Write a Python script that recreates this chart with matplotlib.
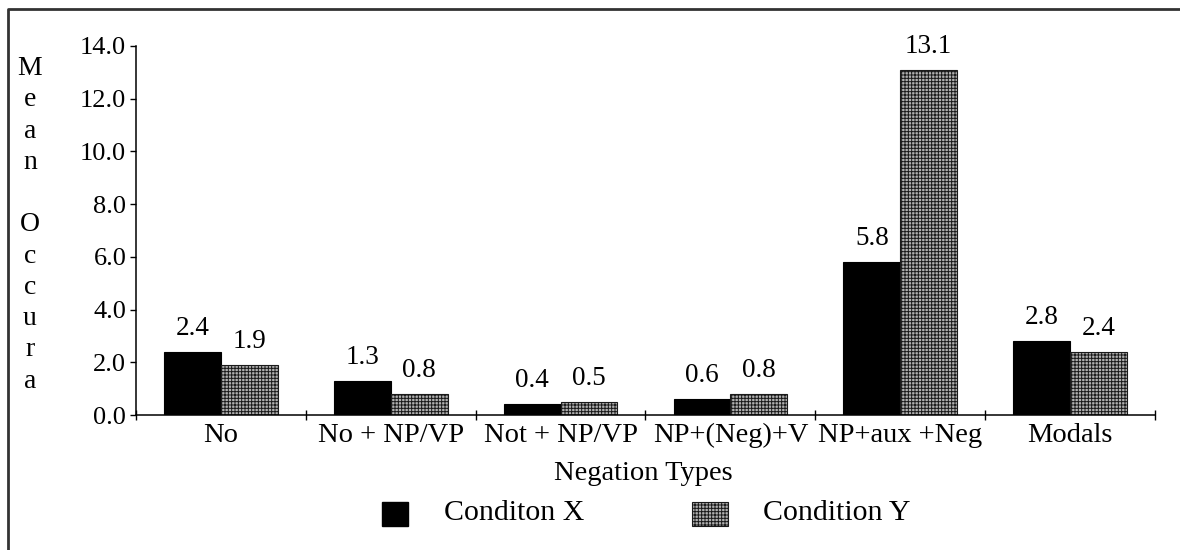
import matplotlib
matplotlib.use("Agg")
import matplotlib.pyplot as plt
import numpy as np
from matplotlib.lines import Line2D
from matplotlib.patches import Rectangle

categories = ["No", "No + NP/VP", "Not + NP/VP", "NP+(Neg)+V", "NP+aux +Neg", "Modals"]
condition_x = [2.4, 1.3, 0.4, 0.6, 5.8, 2.8]
condition_y = [1.9, 0.8, 0.5, 0.8, 13.1, 2.4]
series_names = ["Conditon X", "Condition Y"]
y_ticks = [0.0, 2.0, 4.0, 6.0, 8.0, 10.0, 12.0, 14.0]

W, H = 1180, 550
Y_GRAY = "#b0b0b0"

plt.rcParams["font.family"] = ["Liberation Serif", "DejaVu Serif"]
plt.rcParams["hatch.linewidth"] = 0.7


def fx(px):
    return px / W


def fy(py):
    return 1 - py / H


fig = plt.figure(figsize=(W / 100, H / 100), dpi=100)
ax = fig.add_axes([fx(136), fy(415), fx(1155) - fx(136), fy(46) - fy(415)])

x = np.arange(len(categories))
bw = 0.335
bars_x = ax.bar(x - bw / 2, condition_x, bw, color="black", edgecolor="black", lw=0.8)
bars_y = ax.bar(x + bw / 2, condition_y, bw, color=Y_GRAY, edgecolor="#1a1a1a",
                hatch="+++++", lw=0.8)

for bars, vals in ((bars_x, condition_x), (bars_y, condition_y)):
    for b, v in zip(bars, vals):
        ax.annotate(f"{v:.1f}", (b.get_x() + b.get_width() / 2, v),
                    xytext=(0, 8), textcoords="offset points",
                    ha="center", va="bottom", fontsize=19.5)

ax.set_xlim(-0.5, len(categories) - 0.5)
ax.set_ylim(0, 14)
ax.set_yticks(y_ticks)
ax.set_yticklabels([f"{t:.1f}" for t in y_ticks], fontsize=19)
ax.set_xticks(x)
ax.set_xticklabels(categories, fontsize=20.5)
ax.set_xticks(np.arange(len(categories) + 1) - 0.5, minor=True)
ax.tick_params(axis="x", which="major", length=0, pad=6)
ax.tick_params(axis="x", which="minor", length=7, direction="inout", width=1)
ax.tick_params(axis="y", length=4, direction="out", pad=3, width=1)
for s in ("top", "right"):
    ax.spines[s].set_visible(False)
for s in ("left", "bottom"):
    ax.spines[s].set_linewidth(1.1)

# stacked vertical y label
fig.text(fx(30), fy(56), "M\ne\na\nn\n\nO\nc\nc\nu\nr\na", ha="center", va="top",
         fontsize=20, linespacing=1.33)

fig.text(fx(643), fy(474), "Negation Types", ha="center", va="center", fontsize=20.5)

# legend
fig.add_artist(Rectangle((fx(382), fy(526)), fx(26), fy(0) - fy(24),
                         transform=fig.transFigure, facecolor="black", edgecolor="black"))
fig.text(fx(444), fy(513), series_names[0], ha="left", va="center", fontsize=21.5)
fig.add_artist(Rectangle((fx(692), fy(526)), fx(36), fy(0) - fy(24),
                         transform=fig.transFigure, facecolor=Y_GRAY,
                         edgecolor="#1a1a1a", hatch="+++++", lw=0.8))
fig.text(fx(763), fy(513), series_names[1], ha="left", va="center", fontsize=21.5)

# page frame (left and top)
fig.add_artist(Line2D([fx(8), fx(8), 1], [0, fy(9), fy(9)],
                      transform=fig.transFigure, color="#333333", lw=2))

fig.savefig("out.png", dpi=100)
